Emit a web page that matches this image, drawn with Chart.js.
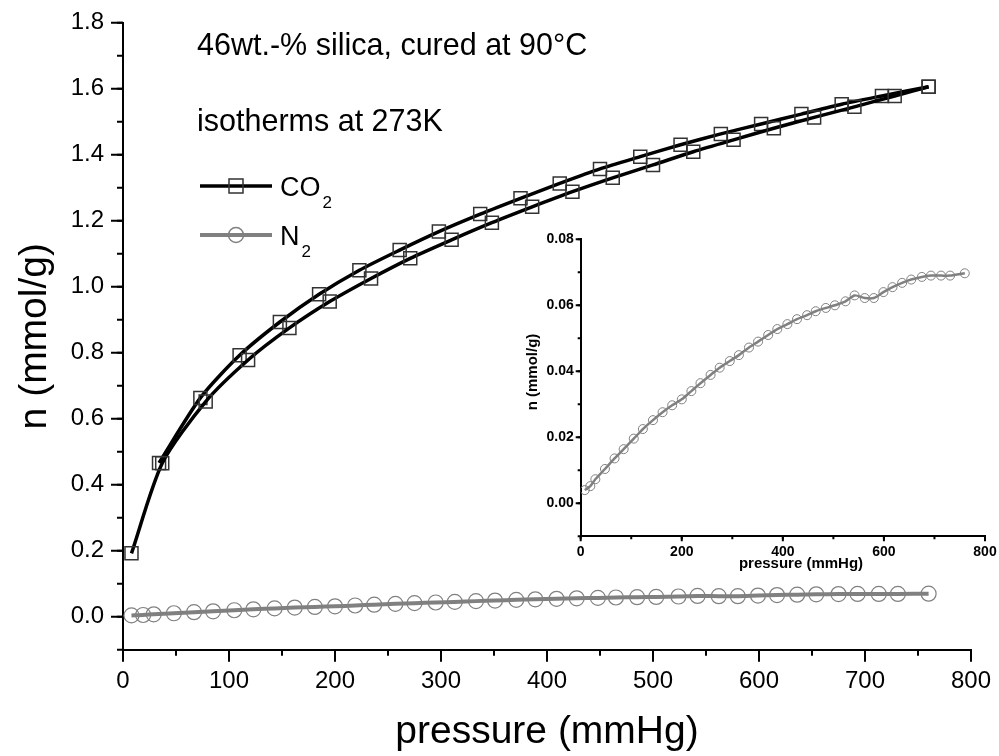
<!DOCTYPE html>
<html>
<head>
<meta charset="utf-8">
<script src="https://cdn.jsdelivr.net/npm/chart.js@4.4.1/dist/chart.umd.min.js"></script>
<style>
  html, body { margin: 0; padding: 0; background: #fff; }
  #wrap { position: relative; width: 999px; height: 756px; }
  #main { position: absolute; left: 0; top: 0; }
  #inset { position: absolute; left: 500px; top: 220px; }
</style>
</head>
<body>
<div id="wrap">
  <canvas id="main" width="999" height="756"></canvas>
  <canvas id="inset" width="499" height="360"></canvas>
</div>
<script>
const FONT = "'Liberation Sans', Arial, sans-serif";

// CO2 isotherm, adsorption branch: pressure (mmHg) / uptake (mmol/g)
const co2AdsP = [8, 37, 78, 118, 157, 195, 234, 271, 310, 348, 386, 424, 462, 500, 538, 576, 614, 652, 690, 728, 760];
const co2AdsN = [0.192, 0.465, 0.652, 0.778, 0.875, 0.955, 1.025, 1.086, 1.142, 1.194, 1.242, 1.288, 1.330, 1.369, 1.409, 1.445, 1.480, 1.513, 1.545, 1.578, 1.606];

// CO2 isotherm, desorption branch
const co2DesP = [760, 716, 678, 640, 602, 564, 526, 488, 450, 412, 375, 337, 298, 261, 223, 185, 148, 110, 73, 34];
const co2DesN = [1.606, 1.578, 1.553, 1.523, 1.493, 1.463, 1.430, 1.394, 1.357, 1.313, 1.268, 1.220, 1.167, 1.111, 1.050, 0.977, 0.893, 0.792, 0.663, 0.466];

// N2 isotherm (same points in the main plot and the zoomed inset)
const n2P = [8, 19, 29, 48, 67, 85, 105, 123, 143, 162, 181, 200, 219, 237, 257, 275, 295, 313, 333, 351,
             371, 389, 409, 428, 448, 465, 485, 503, 524, 542, 562, 580, 599, 617, 636, 654, 675, 693, 713, 731, 760];
const n2N = [0.0040, 0.0052, 0.0073, 0.0104, 0.0136, 0.0164, 0.0196, 0.0225, 0.0252, 0.0276, 0.0297, 0.0315, 0.0340, 0.0364, 0.0389, 0.0411, 0.0431, 0.0449, 0.0472, 0.0490,
             0.0510, 0.0528, 0.0543, 0.0558, 0.0570, 0.0582, 0.0592, 0.0600, 0.0612, 0.0630, 0.0622, 0.0622, 0.0640, 0.0655, 0.0668, 0.0678, 0.0686, 0.0690, 0.0690, 0.0690, 0.0697];

const notes = ['46wt.-% silica, cured at 90°C', 'isotherms at 273K'];
const legendItems = [
  { name: 'CO', sub: '2', color: '#000', marker: 'rect' },
  { name: 'N', sub: '2', color: '#808080', marker: 'circle' }
];

const pts = (xs, ys) => xs.map((x, i) => ({ x: x, y: ys[i] }));

// Origin-style outward ticks (major + minor) along the left and bottom axes
function outerTicks(chart, id, step, len, width) {
  const s = chart.scales[id];
  const a = chart.chartArea;
  const ctx = chart.ctx;
  ctx.save();
  ctx.strokeStyle = '#000';
  ctx.lineWidth = width;
  ctx.beginPath();
  let v = Math.ceil(s.min / step - 1e-6) * step;
  for (; v <= s.max + step * 1e-6; v += step) {
    const p = s.getPixelForValue(v);
    if (s.isHorizontal()) {
      ctx.moveTo(p, a.bottom);
      ctx.lineTo(p, a.bottom + len);
    } else {
      ctx.moveTo(a.left, p);
      ctx.lineTo(a.left - len, p);
    }
  }
  ctx.stroke();
  ctx.restore();
}

// invisible tick marks only keep the labels away from the axis
const hiddenTicks = len => ({ display: true, drawOnChartArea: false, drawTicks: true, tickLength: len, tickColor: 'rgba(0,0,0,0)' });

const mainDecor = {
  id: 'mainDecor',
  afterDraw(chart) {
    outerTicks(chart, 'x', 100, 12, 2);
    outerTicks(chart, 'x', 50, 6, 2);
    outerTicks(chart, 'y', 0.2, 12, 2);
    outerTicks(chart, 'y', 0.1, 6, 2);

    const ctx = chart.ctx;
    ctx.save();
    ctx.fillStyle = '#000';
    ctx.textBaseline = 'alphabetic';
    ctx.font = '30.5px ' + FONT;
    ctx.fillText(notes[0], 197, 55);
    ctx.fillText(notes[1], 197, 131);

    // legend
    legendItems.forEach((it, i) => {
      const y = 186 + i * 49;
      ctx.strokeStyle = it.color;
      ctx.lineWidth = it.marker === 'rect' ? 3.5 : 4;
      ctx.beginPath();
      ctx.moveTo(200, y);
      ctx.lineTo(272, y);
      ctx.stroke();
      ctx.lineWidth = 1.5;
      ctx.strokeStyle = it.marker === 'rect' ? '#333' : '#808080';
      ctx.beginPath();
      if (it.marker === 'rect') ctx.rect(236 - 7, y - 7, 14, 14);
      else ctx.arc(236, y, 7.5, 0, Math.PI * 2);
      ctx.stroke();
      ctx.font = '27px ' + FONT;
      ctx.fillText(it.name, 280, y + 10);
      const w = ctx.measureText(it.name).width;
      ctx.font = '17px ' + FONT;
      ctx.fillText(it.sub, 282 + w, y + 22);
    });
    ctx.restore();
  }
};

new Chart(document.getElementById('main'), {
  type: 'scatter',
  data: {
    datasets: [
      {
        label: 'CO2 adsorption',
        data: pts(co2AdsP, co2AdsN),
        showLine: true,
        tension: 0.25,
        borderColor: '#000',
        borderWidth: 3.5,
        pointStyle: 'rect',
        pointRadius: 9.2,
        pointBorderColor: '#333',
        pointBackgroundColor: 'rgba(0,0,0,0)',
        pointBorderWidth: 1.5
      },
      {
        label: 'CO2 desorption',
        data: pts(co2DesP, co2DesN),
        showLine: true,
        tension: 0.25,
        borderColor: '#000',
        borderWidth: 3.5,
        pointStyle: 'rect',
        pointRadius: 9.2,
        pointBorderColor: '#333',
        pointBackgroundColor: 'rgba(0,0,0,0)',
        pointBorderWidth: 1.5
      },
      {
        label: 'N2',
        data: pts(n2P, n2N),
        showLine: true,
        tension: 0.25,
        borderColor: '#808080',
        borderWidth: 4,
        pointStyle: 'circle',
        pointRadius: 7.5,
        pointBorderColor: '#808080',
        pointBackgroundColor: 'rgba(0,0,0,0)',
        pointBorderWidth: 1.2
      }
    ]
  },
  options: {
    responsive: false,
    animation: false,
    devicePixelRatio: 1,
    layout: { padding: { left: 0, right: 28, top: 22.7, bottom: 0 } },
    plugins: { legend: { display: false }, tooltip: { enabled: false } },
    scales: {
      x: {
        type: 'linear',
        min: 0,
        max: 800,
        grid: hiddenTicks(17),
        border: { display: true, color: '#000', width: 2 },
        ticks: { stepSize: 100, color: '#000', maxRotation: 0, padding: 0, font: { family: FONT, size: 24 } },
        title: { display: true, text: 'pressure (mmHg)', color: '#000', font: { family: FONT, size: 39 }, padding: { top: 0, bottom: 0 } },
        afterFit: s => { s.height = 106.3; }
      },
      y: {
        type: 'linear',
        min: -0.1,
        max: 1.8,
        grid: hiddenTicks(19),
        border: { display: true, color: '#000', width: 2 },
        ticks: { stepSize: 0.2, includeBounds: false, color: '#000', padding: 0, font: { family: FONT, size: 24 },
                 callback: v => v.toFixed(1) },
        title: { display: true, text: 'n (mmol/g)', color: '#000', font: { family: FONT, size: 39 }, padding: { top: 12, bottom: 0 } },
        afterFit: s => { s.width = 123; }
      }
    }
  },
  plugins: [mainDecor]
});

// inset: N2 isotherm on its own scale
const insetDecor = {
  id: 'insetDecor',
  afterDraw(chart) {
    outerTicks(chart, 'x', 200, 5, 2);
    outerTicks(chart, 'x', 100, 3, 2);
    outerTicks(chart, 'y', 0.02, 5, 2);
    outerTicks(chart, 'y', 0.01, 3, 2);
    const ctx = chart.ctx;
    ctx.save();
    ctx.fillStyle = '#000';
    ctx.textAlign = 'center';
    ctx.textBaseline = 'middle';
    ctx.font = 'bold 15px ' + FONT;
    ctx.fillText('pressure (mmHg)', 301, 344);
    ctx.translate(33, 152);
    ctx.rotate(-Math.PI / 2);
    ctx.font = 'bold 15px ' + FONT;
    ctx.fillText('n (mmol/g)', 0, 0);
    ctx.restore();
  }
};

new Chart(document.getElementById('inset'), {
  type: 'scatter',
  data: {
    datasets: [{
      label: 'N2',
      data: pts(n2P, n2N),
      showLine: true,
      tension: 0.25,
      borderColor: '#808080',
      borderWidth: 2.5,
      pointStyle: 'circle',
      pointRadius: 4.5,
      pointBorderColor: '#808080',
      pointBackgroundColor: 'rgba(0,0,0,0)',
      pointBorderWidth: 1
    }]
  },
  options: {
    responsive: false,
    animation: false,
    devicePixelRatio: 1,
    layout: { padding: { left: 0, right: 14, top: 19.3, bottom: 0 } },
    plugins: { legend: { display: false }, tooltip: { enabled: false } },
    scales: {
      x: {
        type: 'linear',
        min: 0,
        max: 800,
        grid: hiddenTicks(7),
        border: { display: true, color: '#000', width: 2 },
        ticks: { stepSize: 200, color: '#000', maxRotation: 0, padding: 0, font: { family: FONT, size: 14, weight: 'bold' } },
        afterFit: s => { s.height = 43.7; }
      },
      y: {
        type: 'linear',
        min: -0.01,
        max: 0.08,
        grid: hiddenTicks(7),
        border: { display: true, color: '#000', width: 2 },
        ticks: { stepSize: 0.02, includeBounds: false, color: '#000', padding: 0, font: { family: FONT, size: 14, weight: 'bold' },
                 callback: v => v.toFixed(2) },
        afterFit: s => { s.width = 80.7; }
      }
    }
  },
  plugins: [insetDecor]
});
</script>
</body>
</html>
